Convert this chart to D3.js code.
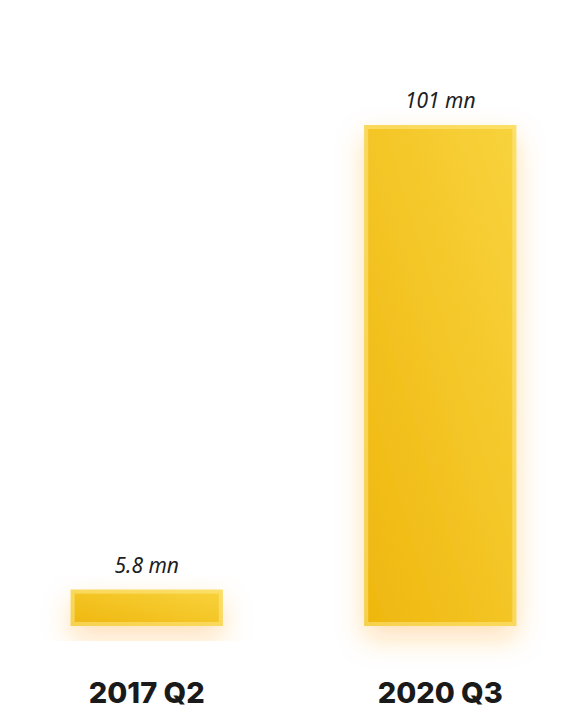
<!DOCTYPE html>
<html>
<head>
<meta charset="utf-8">
<script src="https://cdn.jsdelivr.net/npm/d3@7"></script>
<style>
    html, body { margin: 0; padding: 0; background: #fff; }
    #chart { width: 561px; height: 725px; overflow: hidden; }
</style>
</head>
<body>
<div id="chart"></div>
<script>
const categories = ['2017 Q2', '2020 Q3'];
const values = [5.8, 101];
const valueLabels = ['5.8 mn', '101 mn'];

const width = 561;
const height = 725;

const svg = d3.select('#chart')
    .append('svg')
    .attr('width', width)
    .attr('height', height);

const defs = svg.append('defs');

const grad = defs.append('linearGradient')
    .attr('id', 'barFill')
    .attr('x1', 0).attr('y1', 1)
    .attr('x2', 1).attr('y2', 0);
grad.append('stop').attr('offset', '0%').attr('stop-color', '#efb70e');
grad.append('stop').attr('offset', '100%').attr('stop-color', '#f8d33d');

const glow = defs.append('filter')
    .attr('id', 'glow')
    .attr('x', '-40%').attr('y', '-40%')
    .attr('width', '180%').attr('height', '180%');
glow.append('feDropShadow')
    .attr('dx', 0)
    .attr('dy', 12)
    .attr('stdDeviation', 14)
    .attr('flood-color', '#ff9d1a')
    .attr('flood-opacity', 0.32);

const x = d3.scaleBand()
    .domain(categories)
    .range([0, 587])
    .paddingInner(0.482)
    .paddingOuter(0.241);

const y = d3.scaleLinear()
    .domain([0, 101])
    .range([618, 125]);

const pad = 8; // bars run a bit past the zero line

const bars = svg.selectAll('.bar')
    .data(categories)
    .enter()
    .append('g')
    .attr('class', 'bar');

bars.append('rect')
    .attr('x', d => x(d))
    .attr('y', (d, i) => y(values[i]))
    .attr('width', x.bandwidth())
    .attr('height', (d, i) => y(0) - y(values[i]) + pad)
    .attr('fill', 'url(#barFill)')
    .attr('filter', 'url(#glow)');

// light inner rim
bars.append('rect')
    .attr('x', d => x(d) + 2)
    .attr('y', (d, i) => y(values[i]) + 2)
    .attr('width', x.bandwidth() - 4)
    .attr('height', (d, i) => y(0) - y(values[i]) + pad - 4)
    .attr('fill', 'none')
    .attr('stroke', '#ffeb90')
    .attr('stroke-opacity', 0.5)
    .attr('stroke-width', 4);

bars.append('text')
    .attr('x', d => x(d) + x.bandwidth() / 2)
    .attr('y', (d, i) => y(values[i]) - 17)
    .attr('text-anchor', 'middle')
    .attr('font-family', '"Noto Sans", "Open Sans", sans-serif')
    .attr('font-style', 'italic')
    .attr('font-size', '21px')
    .attr('fill', '#1e1e1e')
    .text((d, i) => valueLabels[i]);

svg.selectAll('.cat-label')
    .data(categories)
    .enter()
    .append('text')
    .attr('class', 'cat-label')
    .attr('x', d => x(d) + x.bandwidth() / 2)
    .attr('y', 703)
    .attr('text-anchor', 'middle')
    .attr('font-family', 'Inter, "Noto Sans", sans-serif')
    .attr('font-weight', 800)
    .attr('font-size', '29px')
    .attr('fill', '#1a1a1a')
    .text(d => d);
</script>
</body>
</html>
